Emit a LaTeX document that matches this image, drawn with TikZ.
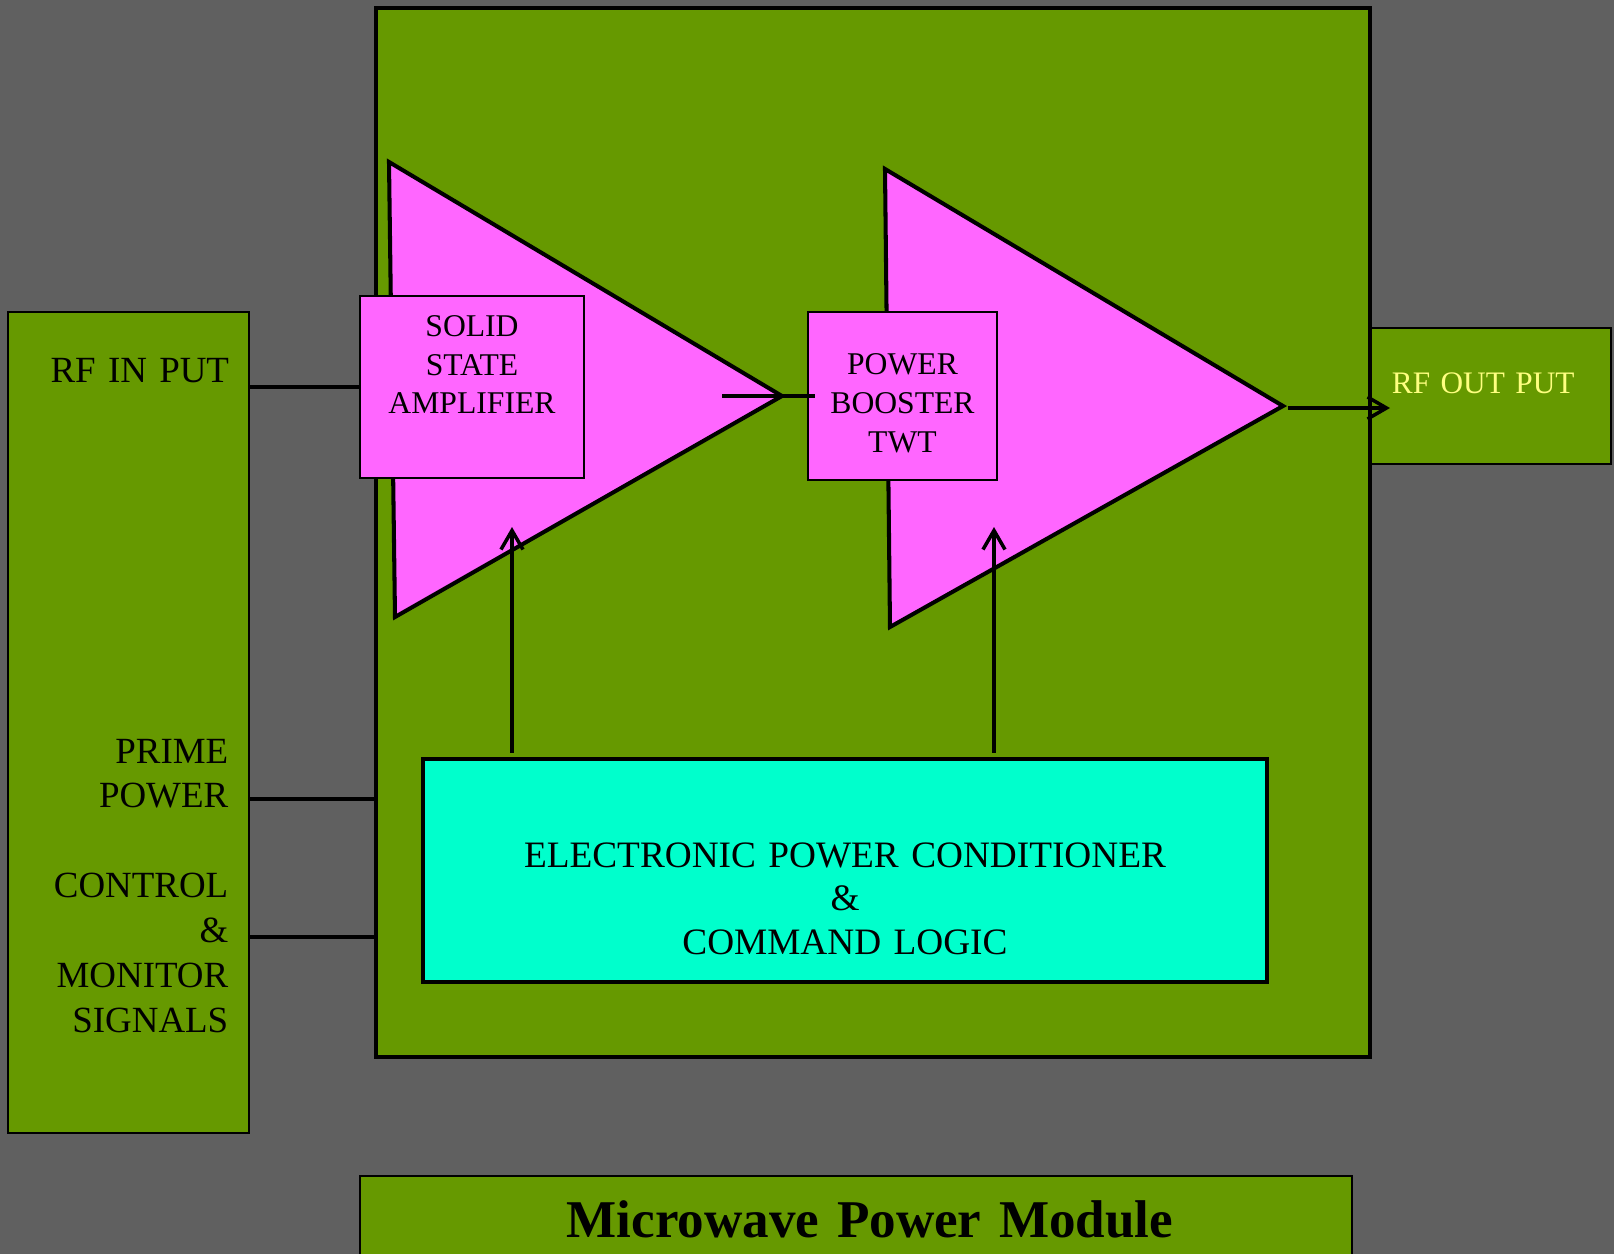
\documentclass[tikz,border=0pt]{standalone}
\usepackage{fontspec}
\setmainfont{Liberation Serif}[WordSpace=0.85]
\usepackage{tikz}
\usetikzlibrary{arrows.meta, positioning}
\usepackage{xcolor}
\definecolor{bggray}{RGB}{96,96,96}
\definecolor{mygreen}{RGB}{102,153,0}
\definecolor{mymagenta}{RGB}{255,102,255}
\definecolor{mycyan}{RGB}{0,255,204}
\definecolor{myyellow}{RGB}{255,255,128}

\tikzset{
  greenbox/.style={draw, fill=mygreen, line width=0.45pt, inner sep=0pt, outer sep=0pt},
  ampbox/.style={draw, fill=mymagenta, line width=0.45pt, inner sep=0pt, outer sep=0pt,
    align=center, font=\fontsize{9pt}{10.95pt}\selectfont},
  amptri/.style={draw, fill=mymagenta, line width=1.15pt},
  wire/.style={line width=1pt},
  sig/.style={line width=1pt, -{Straight Barb[length=1.9mm, width=2.2mm]}},
  biglabel/.style={font=\fontsize{10.5pt}{12.75pt}\selectfont},
}

\begin{document}
\begin{tikzpicture}[x=0.01cm, y=-0.01cm]
\fill[bggray] (0,0) rectangle (1614,1254);
\clip (0,0) rectangle (1614,1254);

% interface panel
\node[greenbox, biglabel, text width=2.01cm, inner xsep=0.2cm, align=right,
  text height=0.71cm, text depth=7.5cm] (lbox) at (128.5,722.5) {RF IN PUT};
\node[biglabel, text width=2.01cm, align=right, inner sep=0pt, anchor=base east] (plabel) at (229,763)
  {PRIME\\POWER\\[12.75pt]CONTROL\\\&\\MONITOR\\SIGNALS};

% output panel, then the module itself
\node[greenbox, text=myyellow, font=\fontsize{8.9pt}{11pt}\selectfont, text width=1.96cm, inner xsep=0.23cm,
  align=left, text height=0.65cm, text depth=0.71cm] (rfout) at (1490,396) {RF OUT PUT};
\node[draw, fill=mygreen, line width=1.15pt, minimum width=9.94cm, minimum height=10.49cm,
  inner sep=0pt, outer sep=0pt] (module) at (873,532.5) {};

% amplifier stages
\draw[amptri] (389,162) -- (782,396) -- (395,617) -- cycle;
\draw[amptri] (885,169) -- (1283,406) -- (890,627) -- cycle;
\node[ampbox, text width=2.24cm, text height=0.41cm, text depth=1.41cm] (ssa) at (472,387) {SOLID\\STATE\\AMPLIFIER};
\node[ampbox, text width=1.89cm, text height=0.63cm, text depth=1.05cm] (twt) at (902.5,396) {POWER\\BOOSTER\\TWT};

\node[draw, fill=mycyan, line width=1.15pt, inner sep=0pt, outer sep=0pt, biglabel,
  font=\fontsize{10.6pt}{12.5pt}\selectfont, text width=8.44cm, align=center,
  text height=1.08cm, text depth=1.15cm] (epc) at (845,870.5)
  {ELECTRONIC POWER CONDITIONER\\\&\\COMMAND LOGIC};

\node[draw, fill=mygreen, line width=0.5pt, inner sep=0pt, text width=9.92cm, align=center,
  text height=0.61cm, text depth=0.33cm, font=\fontsize{15.1pt}{18pt}\selectfont\bfseries] (title) at (856,1223)
  {\hspace*{0.28cm}Microwave Power Module};

% connections
\coordinate (prime) at (249,799);
\coordinate (ctrl) at (249,937);
\coordinate (ssaout) at (722,396);
\coordinate (twtout) at (1288,408);
\coordinate (rfoutin) at (1390,408);
\coordinate (ssabias) at (512,527);
\coordinate (twtbias) at (994,527);
\draw[wire] (lbox.east |- ssa.west) -- (ssa.west);
\draw[wire] (prime) -- (prime -| module.west);
\draw[wire] (ctrl) -- (ctrl -| module.west);
\draw[wire] (ssaout) -- ([xshift=0.07cm]twt.west);
\draw[sig] (twtout) -- (rfoutin);
\draw[sig, shorten <=0.06cm] (epc.north -| ssabias) -- (ssabias);
\draw[sig, shorten <=0.06cm] (epc.north -| twtbias) -- (twtbias);
\end{tikzpicture}
\end{document}
